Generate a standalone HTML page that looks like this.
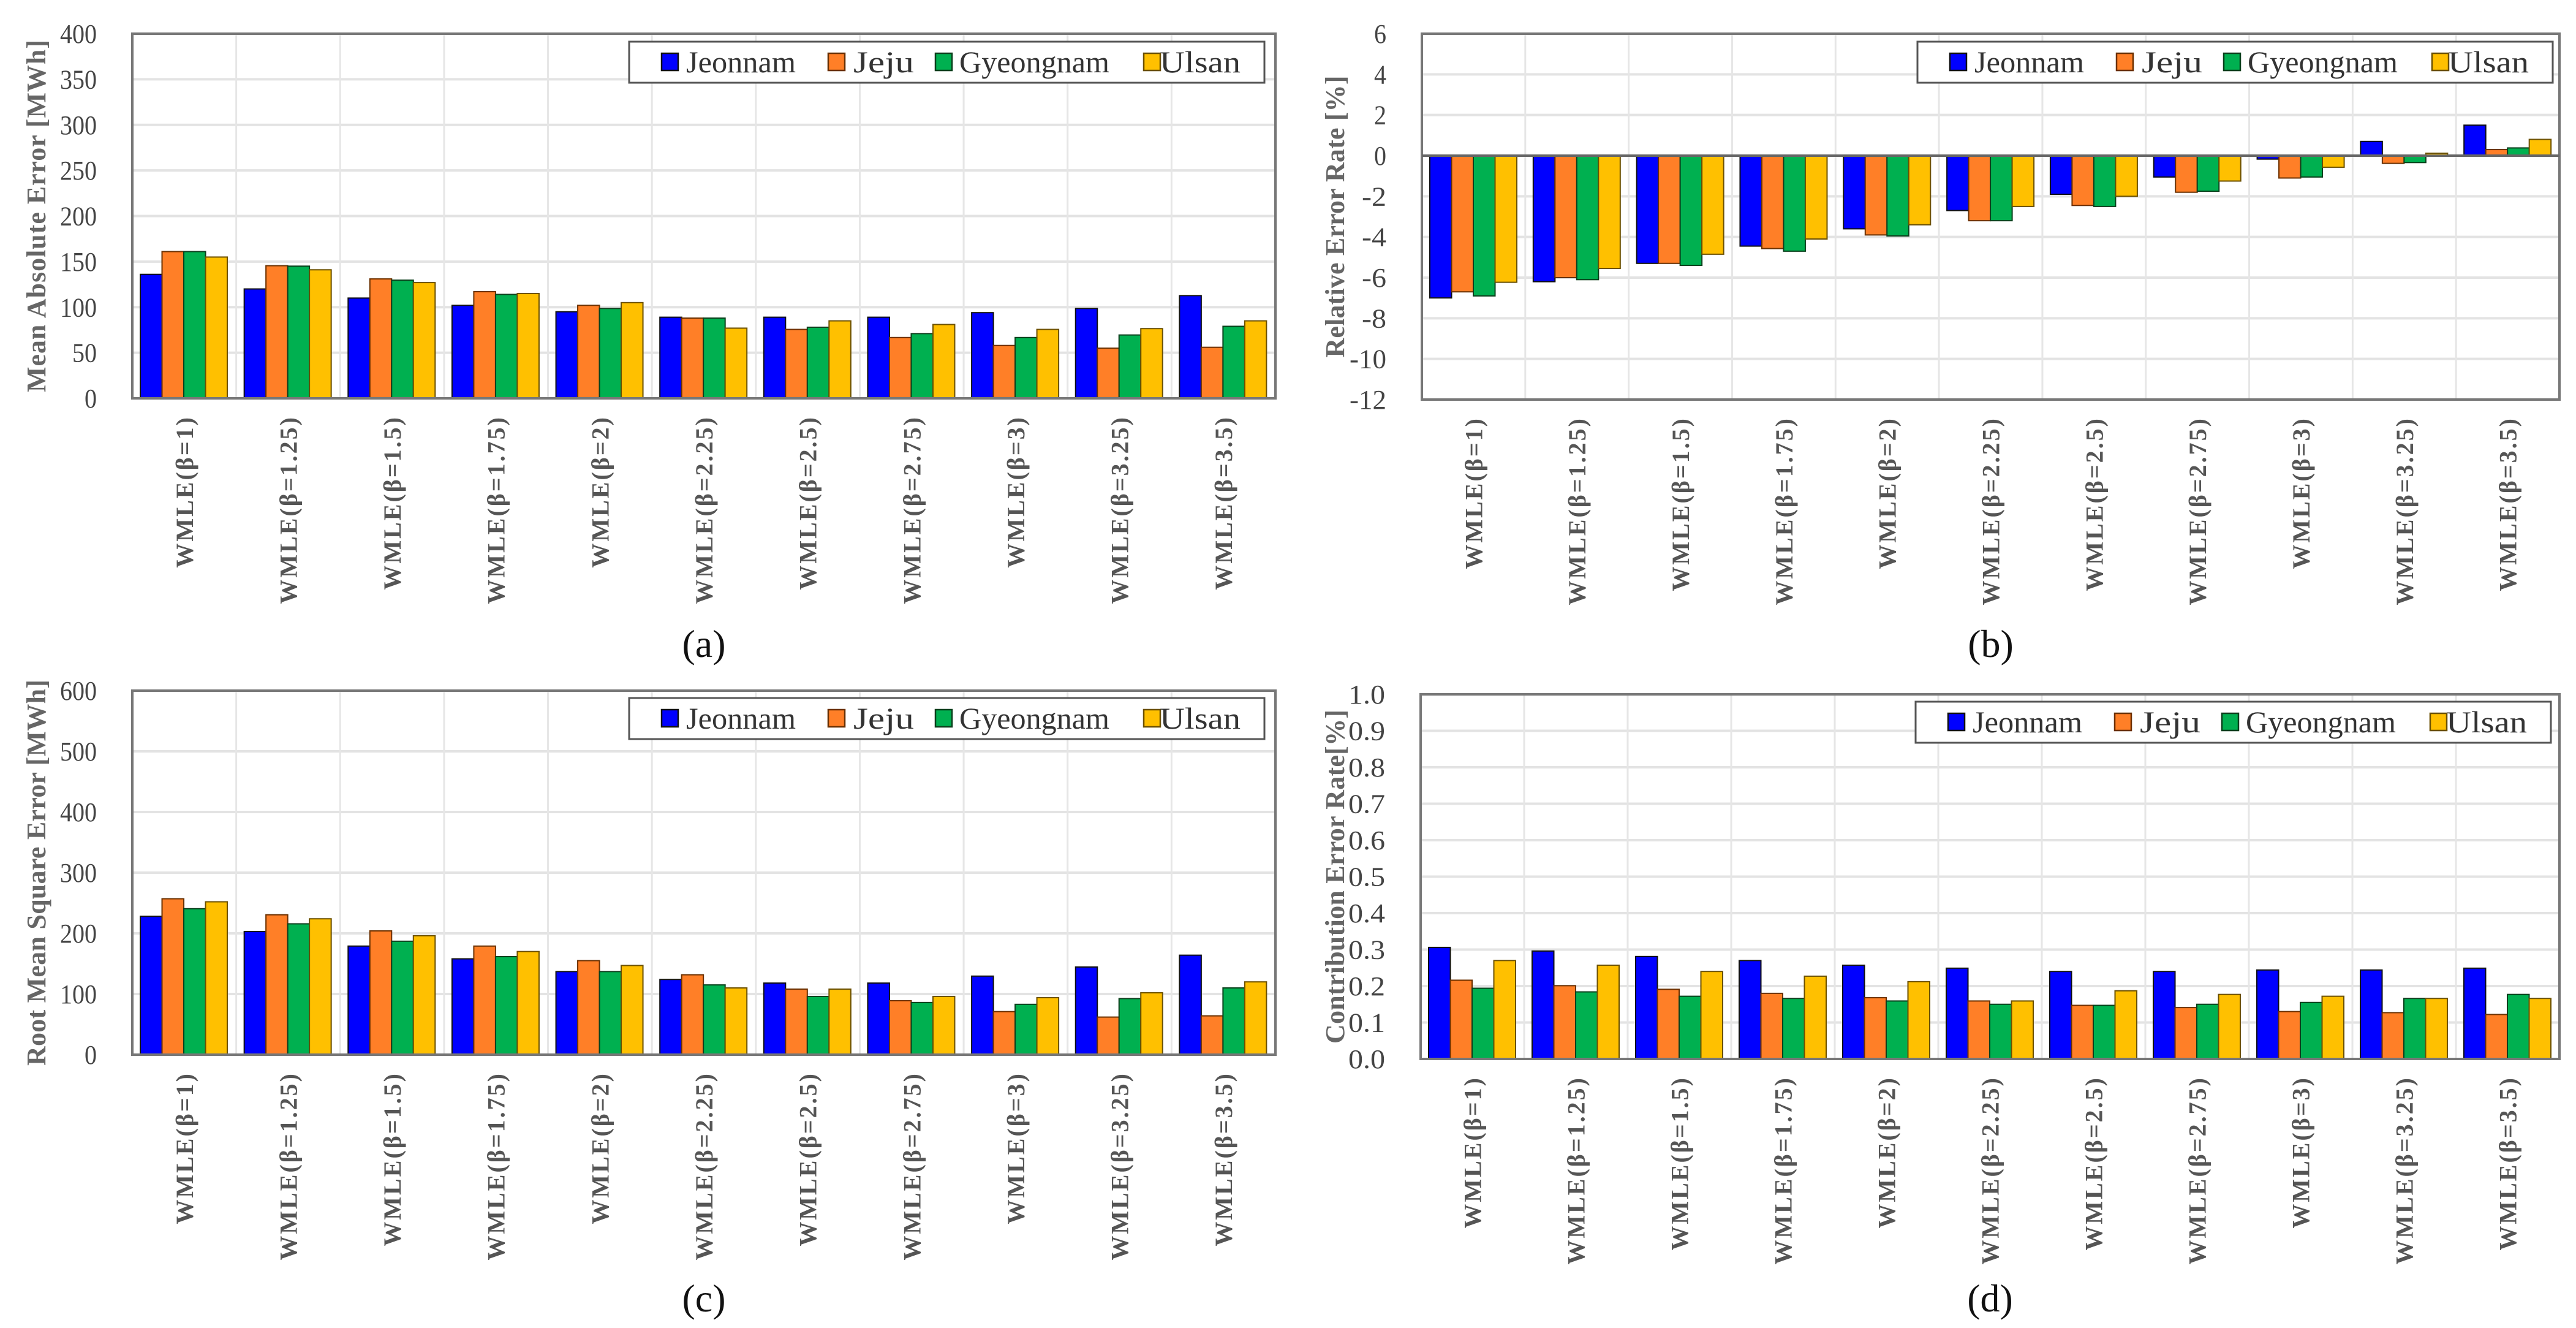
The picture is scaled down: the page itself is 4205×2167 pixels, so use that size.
<!DOCTYPE html>
<html><head><meta charset="utf-8"><style>
html,body{margin:0;padding:0;background:#fff;}
svg{display:block;}
svg text{font-family:"Liberation Serif","DejaVu Serif",serif;}
</style></head><body>
<svg id="fig" xmlns="http://www.w3.org/2000/svg" width="4205" height="2167" viewBox="0 0 4205 2167" font-family="Liberation Serif, DejaVu Serif, serif"></svg>
<script>
const categories = ["WMLE(β=1)","WMLE(β=1.25)","WMLE(β=1.5)","WMLE(β=1.75)","WMLE(β=2)","WMLE(β=2.25)","WMLE(β=2.5)","WMLE(β=2.75)","WMLE(β=3)","WMLE(β=3.25)","WMLE(β=3.5)"];
const seriesNames = ["Jeonnam","Jeju","Gyeongnam","Ulsan"];
const seriesColors = ["#0000ff","#ff7f27","#00b050","#ffc000"];
const seriesBorders = ["#111","#6b3000","#0b3f1c","#6b5000"];

const maeJeonnam = [136,120,110,102,95,89,89,89,94,98.6,112.7];
const maeJeju = [161,145.5,131,117,102,88,75.6,66.7,58,55,56];
const maeGyeongnam = [161,145,129.6,114,98.6,88,78,71,66.7,69.5,79];
const maeUlsan = [155,141,127,115,105,77,85,81,75.6,76.5,85];
const maeTicks = ["0","50","100","150","200","250","300","350","400"];

const rerJeonnam = [-7.0,-6.2,-5.3,-4.45,-3.6,-2.7,-1.9,-1.05,-0.17,0.7,1.5];
const rerJeju = [-6.7,-6.0,-5.3,-4.57,-3.9,-3.2,-2.45,-1.8,-1.1,-0.38,0.3];
const rerGyeongnam = [-6.9,-6.1,-5.4,-4.7,-3.95,-3.2,-2.5,-1.75,-1.05,-0.34,0.38];
const rerUlsan = [-6.23,-5.55,-4.85,-4.1,-3.4,-2.5,-2.0,-1.25,-0.57,0.12,0.8];
const rerTicks = ["-12","-10","-8","-6","-4","-2","0","2","4","6"];

const rmseJeonnam = [228,203,179,158,137,124,118,118,129.5,144.5,164];
const rmseJeju = [257,230.6,204,179,155,131.7,108,89,71,62,64];
const rmseGyeongnam = [240.6,215.7,187,161.6,137,115,96,86,83,92.5,110];
const rmseUlsan = [252,224,196,170,147,110,108,96,94,102,120];
const rmseTicks = ["0","100","200","300","400","500","600"];

const cerJeonnam = [0.306,0.296,0.281,0.27,0.257,0.249,0.24,0.24,0.244,0.244,0.249];
const cerJeju = [0.216,0.201,0.191,0.18,0.168,0.159,0.147,0.141,0.13,0.127,0.122];
const cerGyeongnam = [0.194,0.184,0.172,0.166,0.159,0.15,0.147,0.15,0.155,0.166,0.177];
const cerUlsan = [0.27,0.257,0.24,0.227,0.212,0.159,0.187,0.177,0.172,0.166,0.166];
const cerTicks = ["0.0","0.1","0.2","0.3","0.4","0.5","0.6","0.7","0.8","0.9","1.0"];

const NS = "http://www.w3.org/2000/svg";
const svg = document.getElementById("fig");
const FF = "Liberation Serif, DejaVu Serif, serif";
function mk(tag, attrs, parent){
  const e = document.createElementNS(NS, tag);
  for (const k in attrs) e.setAttribute(k, attrs[k]);
  if (tag === "text") e.setAttribute("font-family", FF);
  (parent||svg).appendChild(e);
  return e;
}

function drawPanel(p){
  const g = mk("g", {});
  
  
  const L=p.left, R=p.right, T=p.top, B=p.bottom;
  const tv = p.ticks.map(Number);
  const vmin = tv[0], vmax = tv[tv.length-1];
  const y = v => B - (v - vmin) / (vmax - vmin) * (B - T);
  const n = categories.length;
  const cw = (R - L) / n;
  const x = i => L + i * cw;
  p.ticks.forEach((t,i)=>{
    const yy = y(Number(t));
    const gl = mk("line",{x1:L,x2:R,y1:yy,y2:yy,stroke:"#e3e3e3","stroke-width":4},g);
    
    
    const tl = mk("text",{x:L-58,y:yy+15,"text-anchor":"end","font-size":44,fill:"#444",textLength:String(t).length*20,lengthAdjust:"spacingAndGlyphs"},g);
    tl.textContent = t;
    
    
  });
  for (let i=1;i<n;i++){
    const vl = mk("line",{x1:x(i),x2:x(i),y1:T,y2:B,stroke:"#e6e6e6","stroke-width":3},g);
    
    
  }
  const bw = 35.5, off = 13;
  const zero = y(Math.max(vmin, 0));
  p.series.forEach((arr, s)=>{
    arr.forEach((v,i)=>{
      const bx = x(i) + off + s*bw;
      const yv = y(v);
      const r = mk("rect",{x:bx,y:Math.min(yv,zero),width:bw,height:Math.max(Math.abs(zero-yv),1),fill:seriesColors[s],stroke:seriesBorders[s],"stroke-width":2},g);
      
      
    });
  });
  const fr = mk("rect",{x:L,y:T,width:R-L,height:B-T,fill:"none",stroke:"#777","stroke-width":4},g);
  
  
  if (vmin < 0){
    const zl = mk("line",{x1:L,x2:R,y1:zero,y2:zero,stroke:"#666","stroke-width":4},g);
    
    
  }
  categories.forEach((c,i)=>{
    const cx = x(i) + cw/2 + 14;
    const ly = B + 28;
    const t = mk("text",{x:cx,y:ly,transform:`rotate(-90 ${cx} ${ly})`,"text-anchor":"end","font-size":40,"font-weight":"bold",fill:"#555","letter-spacing":3},g);
    t.textContent = c;
    
    
  });
  const tx = p.titleX, ty = (T+B)/2;
  const yt = mk("text",{x:tx,y:ty,transform:`rotate(-90 ${tx} ${ty})`,"text-anchor":"middle","font-size":44,"font-weight":"bold",fill:"#666",textLength:p.titleLen,lengthAdjust:"spacing"},g);
  yt.textContent = p.title;
  
  
  const lg = mk("g",{},g);
  
  
  const lx = p.legX, ly0 = p.legY;
  mk("rect",{x:lx,y:ly0,width:1037,height:67,fill:"#fff",stroke:"#555","stroke-width":3},lg);
  const swOff=[53,325,500,840], txOff=[93,366,539,866], txLen=[179,99,245,132];
  seriesNames.forEach((nm,s)=>{
    const sw = mk("rect",{x:lx+swOff[s],y:ly0+19,width:27,height:28,fill:seriesColors[s],stroke:seriesBorders[s],"stroke-width":2.5},lg);
    
    
    const lt = mk("text",{x:lx+txOff[s],y:ly0+50,"font-size":50,fill:"#333",textLength:txLen[s],lengthAdjust:"spacingAndGlyphs"},lg);
    lt.textContent = nm;
    
    
  });
  const pl = mk("text",{x:(L+R)/2,y:p.letterY,"text-anchor":"middle","font-size":64,fill:"#111"},g);
  pl.textContent = p.letter;
  
  
}

drawPanel({name:"chart-mae",left:216,right:2082,top:55,bottom:650,ticks:maeTicks,
  series:[maeJeonnam,maeJeju,maeGyeongnam,maeUlsan],title:"Mean Absolute Error [MWh]",titleX:74,titleLen:575,
  legX:1027,legY:68,letter:"(a)",letterY:1072});
drawPanel({name:"chart-relative-error",left:2321,right:4178,top:55,bottom:652,ticks:rerTicks,
  series:[rerJeonnam,rerJeju,rerGyeongnam,rerUlsan],title:"Relative Error Rate [%]",titleX:2194,titleLen:460,
  legX:3130,legY:68,letter:"(b)",letterY:1072});
drawPanel({name:"chart-rmse",left:216,right:2082,top:1127,bottom:1721,ticks:rmseTicks,
  series:[rmseJeonnam,rmseJeju,rmseGyeongnam,rmseUlsan],title:"Root Mean Square Error [MWh]",titleX:74,titleLen:630,
  legX:1027,legY:1139,letter:"(c)",letterY:2140});
drawPanel({name:"chart-contribution-error",left:2319,right:4178,top:1133,bottom:1728,ticks:cerTicks,
  series:[cerJeonnam,cerJeju,cerGyeongnam,cerUlsan],title:"Contribution Error Rate[%]",titleX:2194,titleLen:545,
  legX:3127,legY:1145,letter:"(d)",letterY:2140});
</script>
</body></html>
